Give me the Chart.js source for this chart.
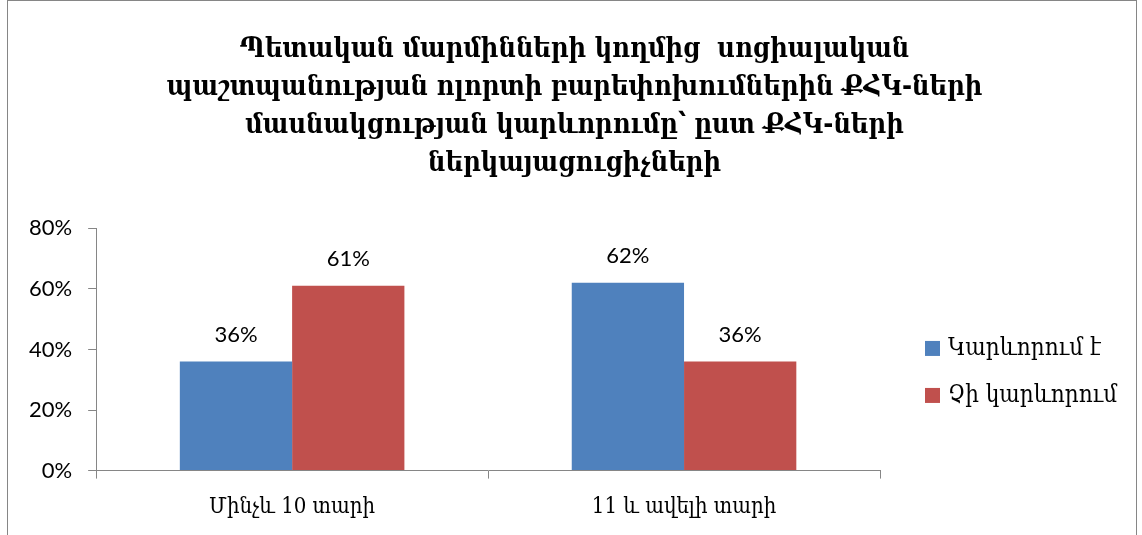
<!DOCTYPE html>
<html>
<head>
<meta charset="utf-8">
<script src="https://cdn.jsdelivr.net/npm/chart.js@4/dist/chart.umd.min.js"></script>
<style>
  html, body { margin: 0; padding: 0; background: #fff; }
  #wrap { position: relative; height: 535px; box-sizing: border-box; width: 1130px; margin-left: 7px;
          border-left: 1px solid #868686; border-top: 1px solid #868686; border-right: 1px solid #868686; }
</style>
</head>
<body>
<div id="wrap"><canvas id="chart"></canvas></div>
<script>
const titleLines = [
  'Պետական մարմինների կողմից  սոցիալական',
  'պաշտպանության ոլորտի բարեփոխումներին ՔՀԿ-ների',
  'մասնակցության կարևորումը՝ ըստ ՔՀԿ-ների',
  'ներկայացուցիչների'
];
const categories = ['Մինչև 10 տարի', '11 և ավելի տարի'];
const seriesNames = ['Կարևորում է', 'Չի կարևորում'];
const valuesImportant = [36, 62];
const valuesNotImportant = [61, 36];
const yTicks = [0, 20, 40, 60, 80];

const armFont = "'DejaVu Serif Condensed', 'DejaVu Serif', serif";
const numFont = "Lato, 'Liberation Sans', sans-serif";

// draws the value labels above each bar
const valueLabels = {
  id: 'valueLabels',
  afterDatasetsDraw(chart) {
    const ctx = chart.ctx;
    ctx.save();
    ctx.font = '22px ' + numFont;
    ctx.fillStyle = '#000';
    ctx.textAlign = 'center';
    ctx.textBaseline = 'middle';
    chart.data.datasets.forEach((ds, i) => {
      chart.getDatasetMeta(i).data.forEach((bar, j) => {
        ctx.fillText(ds.data[j] + '%', bar.x, bar.y - 27);
      });
    });
    ctx.restore();
  }
};

// reserves room on the right of the plot (below the title) and draws the legend there
const sideLegend = {
  id: 'sideLegend',
  beforeInit(chart) {
    Chart.layouts.addBox(chart, {
      position: 'right', weight: 10, fullSize: false, options: {},
      left: 0, top: 0, right: 0, bottom: 0, width: 0, height: 0,
      isHorizontal() { return false; },
      update(maxWidth, maxHeight) { this.width = 256; this.height = maxHeight; },
      draw() {}
    });
  },
  afterDraw(chart) {
    const { ctx, chartArea } = chart;
    const x = chartArea.right + 45;
    const mid = (chartArea.top + chartArea.bottom) / 2 - 1;
    const step = 47;
    ctx.save();
    ctx.font = '24px ' + armFont;
    ctx.textBaseline = 'middle';
    ctx.textAlign = 'left';
    chart.data.datasets.forEach((ds, i) => {
      const y = mid + i * step;
      ctx.fillStyle = ds.backgroundColor;
      ctx.fillRect(x, y - 7.5, 15, 15);
      ctx.fillStyle = '#000';
      ctx.fillText(ds.label, x + 23, y);
    });
    ctx.restore();
  }
};

new Chart(document.getElementById('chart'), {
  type: 'bar',
  data: {
    labels: categories,
    datasets: [
      { label: seriesNames[0], data: valuesImportant, backgroundColor: '#4F81BD' },
      { label: seriesNames[1], data: valuesNotImportant, backgroundColor: '#C0504D' }
    ]
  },
  options: {
    responsive: true,
    maintainAspectRatio: false,
    animation: false,
    categoryPercentage: 0.573,
    barPercentage: 1,
    layout: { padding: { left: 5, right: 0, top: 0, bottom: 0 } },
    plugins: {
      title: {
        display: true,
        text: titleLines,
        color: '#000',
        font: { family: armFont, size: 27, weight: 'bold', lineHeight: 1.41 },
        padding: { top: 30, bottom: 45 }
      },
      legend: { display: false },
      tooltip: { enabled: false }
    },
    scales: {
      x: {
        grid: { display: true, drawOnChartArea: false, offset: true, tickLength: 8, color: '#868686' },
        border: { color: '#868686' },
        ticks: { color: '#000', padding: 15, font: { family: armFont, size: 22 } }
      },
      y: {
        min: 0, max: 80,
        afterBuildTicks: (axis) => { axis.ticks = yTicks.map(v => ({ value: v })); },
        grid: { display: true, drawOnChartArea: false, tickLength: 8, color: '#868686' },
        border: { color: '#868686' },
        ticks: { color: '#000', padding: 16, font: { family: numFont, size: 22 }, callback: v => v + '%' }
      }
    }
  },
  plugins: [valueLabels, sideLegend]
});
</script>
</body>
</html>
